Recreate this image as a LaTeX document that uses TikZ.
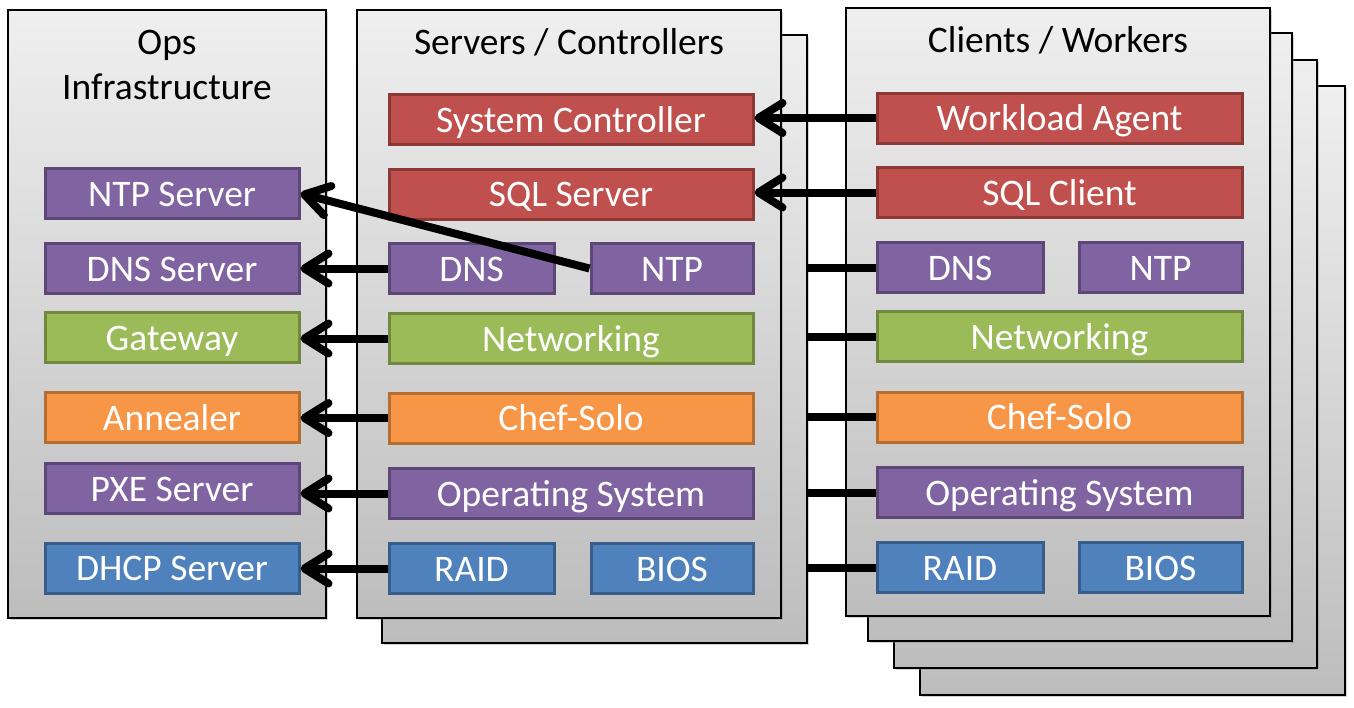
\documentclass[tikz,border=0pt]{standalone}
\usepackage{fontspec}
\setmainfont{Carlito}
\usetikzlibrary{arrows.meta,shadows}
\definecolor{pTop}{HTML}{EFEFEF}
\definecolor{pBot}{HTML}{BDBDBD}
\definecolor{cRed}{HTML}{C0504D}\definecolor{cRedD}{HTML}{8C3836}
\definecolor{cPur}{HTML}{8064A2}\definecolor{cPurD}{HTML}{5C4776}
\definecolor{cGrn}{HTML}{9BBB59}\definecolor{cGrnD}{HTML}{71893F}
\definecolor{cOrg}{HTML}{F79646}\definecolor{cOrgD}{HTML}{B66D31}
\definecolor{cBlu}{HTML}{4F81BD}\definecolor{cBluD}{HTML}{385D8A}
\begin{document}
\begin{tikzpicture}[x=1pt,y=-1pt,
  panel/.style={draw=black, line width=2pt, top color=pTop, bottom color=pBot,
    drop shadow={shadow xshift=2pt, shadow yshift=-2pt, opacity=0.35}},
  box/.style={rectangle, line width=3pt, text=white, minimum height=50, inner sep=0pt,
    text height=27pt, text depth=2pt,
    font=\fontsize{37.5}{42}\selectfont},
  bred/.style={box, fill=cRed, draw=cRedD},
  bpur/.style={box, fill=cPur, draw=cPurD},
  bgrn/.style={box, fill=cGrn, draw=cGrnD},
  borg/.style={box, fill=cOrg, draw=cOrgD},
  bblu/.style={box, fill=cBlu, draw=cBluD},
  title/.style={font=\fontsize{37.5}{45}\selectfont, align=center, text=black},
  arr/.style={line width=8pt, -{Straight Barb[length=24pt,width=30pt,line cap=round,line join=round]}},
  link/.style={line width=8pt}
]
\useasboundingbox (0,0) rectangle (1354,707);
% panels
\draw[panel] (8,10) rectangle (326,618);
\draw[panel] (382,35) rectangle (807,643);
\draw[panel] (357,10) rectangle (781,618);
\draw[panel] (920,86) rectangle (1345,695);
\draw[panel] (894,60) rectangle (1317,668);
\draw[panel] (868,33) rectangle (1292,641);
\draw[panel] (846,8) rectangle (1270,616);
\coordinate (sedge) at (807,0);
% titles
\node[title] (tops) at (167,65) {Ops\\Infrastructure};
\node[title] (tsrv) at (569,42) {Servers / Controllers};
\node[title] (tcli) at (1058,40) {Clients / Workers};
% ops boxes
\node[bpur, minimum width=254] (ontp) at (172,193.5) {NTP Server};
\node[bpur, minimum width=254] (odns) at (172,268.5) {DNS Server};
\node[bgrn, minimum width=254] (ogw) at (172,337.5) {Gateway};
\node[borg, minimum width=254] (oann) at (172,417.5) {Annealer};
\node[bpur, minimum width=254] (opxe) at (172,488.5) {PXE Server};
\node[bblu, minimum width=254] (odhcp) at (172,568) {DHCP Server};
% server boxes
\node[bred, minimum width=364] (ssc) at (571,119.5) {System Controller};
\node[bred, minimum width=364] (ssql) at (571,194) {SQL Server};
\node[bpur, minimum width=165] (sdns) at (471.5,268.5) {DNS};
\node[bpur, minimum width=162] (sntp) at (672,268.5) {NTP};
\node[bgrn, minimum width=364] (snet) at (571,338.5) {Networking};
\node[borg, minimum width=364] (schef) at (571,418) {Chef-Solo};
\node[bpur, minimum width=364] (sos) at (571,493.5) {Operating System};
\node[bblu, minimum width=165] (sraid) at (471.5,568.5) {RAID};
\node[bblu, minimum width=162] (sbios) at (672,568.5) {BIOS};
% client boxes
\node[bred, minimum width=365] (cwa) at (1059.5,118) {Workload Agent};
\node[bred, minimum width=365] (csql) at (1059.5,192.5) {SQL Client};
\node[bpur, minimum width=166] (cdns) at (960,267.5) {DNS};
\node[bpur, minimum width=163] (cntp) at (1160.5,267.5) {NTP};
\node[bgrn, minimum width=365] (cnet) at (1059.5,336.5) {Networking};
\node[borg, minimum width=365] (cchef) at (1059.5,417) {Chef-Solo};
\node[bpur, minimum width=365] (cos) at (1059.5,492.5) {Operating System};
\node[bblu, minimum width=166] (craid) at (960,567.5) {RAID};
\node[bblu, minimum width=163] (cbios) at (1160.5,567.5) {BIOS};
% arrows
\draw[arr] (cwa.west) -- (cwa.west -| ssc.east);
\draw[arr] (csql.west) -- (csql.west -| ssql.east);
\draw[arr] (sdns.west) -- (sdns.west -| odns.east);
\draw[arr] (snet.west) -- (snet.west -| ogw.east);
\draw[arr] (schef.west) -- (schef.west -| oann.east);
\draw[arr] (sos.west) -- (sos.west -| opxe.east);
\draw[arr] (sraid.west) -- (sraid.west -| odhcp.east);
\draw[arr] (sntp.west) -- (ontp.east);
% links
\draw[link] (cdns.west) -- (cdns.west -| sedge);
\draw[link] (cnet.west) -- (cnet.west -| sedge);
\draw[link] (cchef.west) -- (cchef.west -| sedge);
\draw[link] (cos.west) -- (cos.west -| sedge);
\draw[link] (craid.west) -- (craid.west -| sedge);
\end{tikzpicture}
\end{document}
